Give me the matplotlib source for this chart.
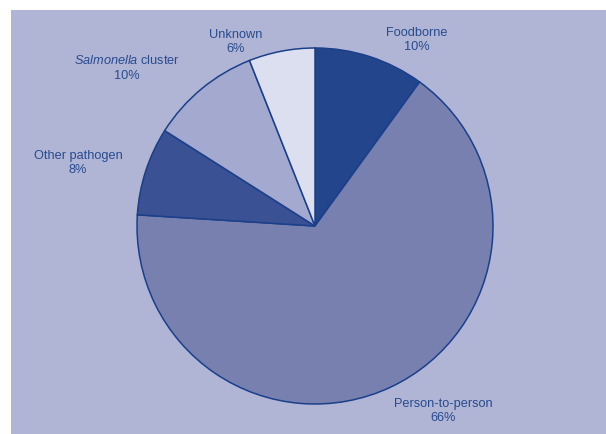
import matplotlib
matplotlib.use("Agg")
import matplotlib.pyplot as plt
from matplotlib.patches import Rectangle

plt.rcParams['font.family'] = ['Liberation Sans', 'DejaVu Sans']
plt.rcParams['mathtext.fontset'] = 'custom'
plt.rcParams['mathtext.rm'] = 'Liberation Sans'
plt.rcParams['mathtext.it'] = 'Liberation Sans:italic'

labels = ["Foodborne", "Person-to-person", "Other pathogen",
          r"$\it{Salmonella}$ cluster", "Unknown"]
shares = [10, 66, 8, 10, 6]
colors = ["#22458c", "#7880b0", "#3a5193", "#a4a9d0", "#dcdfef"]
# label centres, in pixels from the top-left of the image
label_pos = [(417, 40), (443, 411), (78, 163), (127, 68), (236, 42)]

W, H = 606, 434
bg = "#b0b5d6"
fig = plt.figure(figsize=(W / 100, H / 100), dpi=100, facecolor=bg)
ax = fig.add_axes([0, 0, 1, 1])
ax.set_facecolor(bg)

# white margin on the left and top
ax.add_patch(Rectangle((-50, -50), 61, H + 100, facecolor='white',
                       edgecolor='none', zorder=0))
ax.add_patch(Rectangle((-50, H - 10), W + 100, 60, facecolor='white',
                       edgecolor='none', zorder=0))

ax.pie(shares, colors=colors, startangle=90, counterclock=False,
       center=(315, H - 226), radius=178, frame=True,
       wedgeprops=dict(edgecolor="#1b3f8a", linewidth=1.1))
ax.set_xlim(0, W)
ax.set_ylim(0, H)
ax.set_aspect('equal')
ax.axis('off')

for lab, val, (x, y) in zip(labels, shares, label_pos):
    ax.text(x, H - y, f"{lab}\n{val}%", ha='center', va='center',
            fontsize=9.2, color="#284a8e", linespacing=1.25)

fig.savefig("out.png", dpi=100, facecolor=bg, bbox_inches=None)
